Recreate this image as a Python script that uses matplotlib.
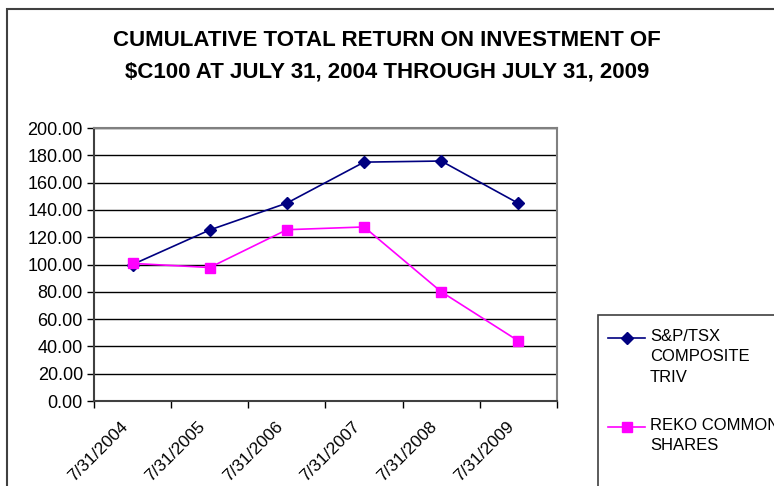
import matplotlib
matplotlib.use("Agg")
import matplotlib.pyplot as plt
import matplotlib.transforms as mtransforms
from matplotlib.patches import Rectangle
from matplotlib.lines import Line2D

plt.rcParams['font.family'] = ['Liberation Sans', 'DejaVu Sans']

# Data
dates = ["7/31/2004", "7/31/2005", "7/31/2006", "7/31/2007", "7/31/2008", "7/31/2009"]
sp_tsx = [100.0, 125.3, 145.0, 175.0, 175.8, 144.8]
reko = [100.8, 97.8, 125.5, 127.5, 80.0, 44.0]
series_names = ["S&P/TSX\nCOMPOSITE\nTRIV", "REKO COMMON\nSHARES"]

fig = plt.figure(figsize=(7.74, 4.86), dpi=100)

# outer chart border (runs off the right and bottom edges)
fig.patches.append(Rectangle((7 / 774, -0.1), 1.2, 1 - 9 / 486 + 0.1,
                             transform=fig.transFigure, fill=False,
                             edgecolor="#404040", lw=1.5))

ax = fig.add_axes([94 / 774, 1 - 401 / 486, (557 - 94) / 774, (401 - 128) / 486])

styles = [dict(color="#000080", marker="D", markersize=6),
          dict(color="#FF00FF", marker="s", markersize=7)]

x = list(range(len(dates)))
for vals, st, name in zip([sp_tsx, reko], styles, series_names):
    ax.plot(x, vals, lw=1.2, label=name, **st)

ax.set_xlim(-0.5, len(dates) - 0.5)
ax.set_ylim(0, 200)
ax.set_yticks(range(0, 201, 20))
ax.set_yticklabels([f"{v:.2f}" for v in range(0, 201, 20)], fontsize=13)
ax.yaxis.grid(True, color="black", lw=1)
ax.set_axisbelow(True)

ax.set_xticks(x)
ax.set_xticklabels(dates, rotation=45, ha="right", va="top",
                   rotation_mode="anchor", fontsize=12.5)
ax.tick_params(axis="x", which="major", length=0, pad=13)
ax.set_xticks([i - 0.5 for i in range(len(dates) + 1)], minor=True)
ax.tick_params(axis="x", which="minor", length=5, width=1, direction="out")
ax.tick_params(axis="y", length=5, width=1, direction="out", pad=3)

# nudge the rotated date labels left, Excel style
shift = mtransforms.ScaledTranslation(-12 / 100, 0, fig.dpi_scale_trans)
for lbl in ax.get_xticklabels():
    lbl.set_transform(lbl.get_transform() + shift)

for s in ["top", "right"]:
    ax.spines[s].set_color("#808080")
    ax.spines[s].set_linewidth(1.5)
for s in ["left", "bottom"]:
    ax.spines[s].set_color("#404040")
    ax.spines[s].set_linewidth(1.5)

fig.text(0.5, 1 - 40 / 486, "CUMULATIVE TOTAL RETURN ON INVESTMENT OF",
         ha="center", va="center", fontsize=16, fontweight="bold")
fig.text(0.5, 1 - 72 / 486, "$C100 AT JULY 31, 2004 THROUGH JULY 31, 2009",
         ha="center", va="center", fontsize=16, fontweight="bold")

# legend box (cut off at right and bottom), handles aligned with first text line
fig.patches.append(Rectangle((598 / 774, -0.1), 0.5, 1 - 315 / 486 + 0.1,
                             transform=fig.transFigure, fill=False,
                             edgecolor="#404040", lw=1.2))
for i, (st, name) in enumerate(zip(styles, series_names)):
    yy = 1 - (338 + 89 * i) / 486
    fig.add_artist(Line2D([608 / 774, 645 / 774], [yy, yy], lw=1.2,
                          color=st["color"], transform=fig.transFigure))
    fig.add_artist(Line2D([626.5 / 774], [yy], transform=fig.transFigure,
                          linestyle="none", **st))
    fig.text(650 / 774, yy + 9 / 486, name, ha="left", va="top",
             fontsize=12, linespacing=1.45)

fig.savefig("out.png", dpi=100)
